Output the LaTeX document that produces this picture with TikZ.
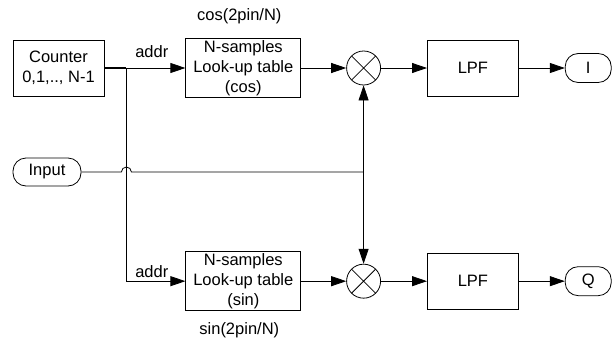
\documentclass[tikz,border=0pt]{standalone}
\usepackage{fontspec}
\setmainfont{Liberation Sans}
\usepackage{tikz}
\usetikzlibrary{arrows.meta,positioning,calc}
\tikzset{
  blk/.style={rectangle, draw, line width=0.8pt, align=center, minimum height=56pt, inner sep=2pt},
  term/.style={rectangle, rounded corners=13pt, draw, line width=0.8pt, align=center, minimum height=29pt, inner sep=2pt},
  mix/.style={circle, draw, line width=0.8pt, minimum size=34pt, inner sep=0pt,
    path picture={\draw[line width=0.8pt] (path picture bounding box.north west) -- (path picture bounding box.south east)
      (path picture bounding box.north east) -- (path picture bounding box.south west);}},
  arrow/.style={-{Triangle[length=15pt, width=10pt]}, line width=0.8pt}
}
\begin{document}
\begin{tikzpicture}[
  x=1pt, y=1pt,
  every node/.style={font=\fontsize{16.5}{20}\selectfont}
]
  \useasboundingbox (0,0) rectangle (615,-340);
  \node[blk, minimum width=91pt] (cnt) at (58.5,-68) {Counter\\0,1,.., N-1};
  \node[blk, minimum width=115pt, right=81pt of cnt] (lutc) {N-samples\\Look-up table\\(cos)};
  \node[mix, right=45pt of lutc] (mixc) {};
  \node[blk, minimum width=91pt, right=46pt of mixc] (lpfi) {LPF};
  \node[term, minimum width=46pt, right=46pt of lpfi] (outi) {I};
  \node[blk, minimum width=115pt, below=153pt of lutc] (luts) {N-samples\\Look-up table\\(sin)};
  \node[mix, right=45pt of luts] (mixs) {};
  \node[blk, minimum width=91pt, right=46pt of mixs] (lpfq) {LPF};
  \node[term, minimum width=46pt, right=46pt of lpfq] (outq) {Q};
  \node[term, minimum width=68pt, minimum height=28pt] (inp) at (47,-172) {Input};
  \node[above=10pt of lutc, xshift=-4pt] (lblc) {cos(2pin/N)};
  \node[below=8pt of luts, xshift=-4pt] (lbls) {sin(2pin/N)};
  \coordinate[right=22pt of cnt] (br);
  \coordinate (jn) at (mixc |- inp);
  \draw[line width=1.3pt] (cnt) -- (br);
  \draw[arrow] (br) -- node[pos=0.43, above=10pt, inner sep=0pt] {addr} (lutc);
  \draw[arrow] (br) |- node[pos=0.715, above=3pt, inner sep=0pt] {addr} (luts);
  \draw[line width=0.8pt] (inp) -- ($(br |- inp)+(-5,0)$) arc[start angle=180, end angle=0, radius=5] -- (jn);
  \draw[arrow] (jn) -- (mixc);
  \draw[arrow] (jn) -- (mixs);
  \draw[arrow] (lutc) -- (mixc);
  \draw[arrow] (mixc) -- (lpfi);
  \draw[arrow] (lpfi) -- (outi);
  \draw[arrow] (luts) -- (mixs);
  \draw[arrow] (mixs) -- (lpfq);
  \draw[arrow] (lpfq) -- (outq);
\end{tikzpicture}
\end{document}
